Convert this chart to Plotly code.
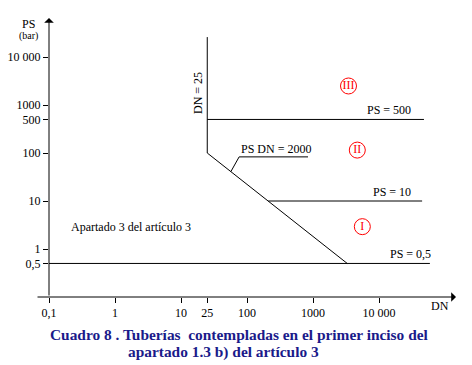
import math
import plotly.graph_objects as go

# ---- data (DN, PS) ----
x_ticks = [0.1, 1, 10, 25, 100, 1000, 10000]
x_ticktext = ["0,1", "1", "10", "25", "100", "1000", "10 000"]
y_ticks = [0.5, 1, 10, 100, 500, 1000, 10000]
y_ticktext = ["0,5", "1", "10", "100", "500", "1000", "10 000"]

dn25_dn = [25, 25]
dn25_ps = [100, 26000]
ps500_dn = [25, 48000]
ps500_ps = [500, 500]
diag_dn = [25, 3300]
diag_ps = [100, 0.5]
ps10_dn = [210, 45000]
ps10_ps = [10, 10]
ps05_dn = [0.1, 59000]
ps05_ps = [0.5, 0.5]
leader_dn = [57, 76, 840]
leader_ps = [41, 83, 83]

zone_names = ["III", "II", "I"]
zone_dn = [3450, 4690, 5590]
zone_ps = [2490, 115, 2.92]

FONT = "Liberation Serif"
L, R, T, B = 49, 16, 19, 68
W, H = 472, 365
PW, PH = W - L - R, H - T - B


def px(xp):
    return (xp - L) / PW


def py(yp):
    return (T + PH - yp) / PH


fig = go.Figure()
line_style = dict(color="black", width=1)
for xs, ys in [(dn25_dn, dn25_ps), (ps500_dn, ps500_ps), (diag_dn, diag_ps),
               (ps10_dn, ps10_ps), (ps05_dn, ps05_ps), (leader_dn, leader_ps)]:
    fig.add_trace(go.Scatter(x=xs, y=ys, mode="lines", line=line_style,
                             hoverinfo="skip", showlegend=False))

fig.add_trace(go.Scatter(
    x=zone_dn, y=zone_ps, mode="markers+text", text=zone_names,
    textposition="middle center",
    textfont=dict(family=FONT, size=12, color="#ff0000"),
    marker=dict(symbol="circle-open", size=16, color="#ff0000",
                line=dict(width=1, color="#ff0000")),
    hoverinfo="skip", showlegend=False, cliponaxis=False))

ann = []
lg = math.log10
tf = dict(family=FONT, size=12, color="black")
# line labels
ann.append(dict(x=lg(25), y=lg(1800), xref="x", yref="y", text="DN = 25",
                textangle=-90, showarrow=False, xanchor="right", yanchor="middle",
                xshift=-1, font=tf))
ann.append(dict(x=lg(32700), y=lg(500), xref="x", yref="y", text="PS = 500",
                showarrow=False, xanchor="right", yanchor="bottom", yshift=0, font=tf))
ann.append(dict(x=lg(32700), y=lg(10), xref="x", yref="y", text="PS = 10",
                showarrow=False, xanchor="right", yanchor="bottom", yshift=0, font=tf))
ann.append(dict(x=lg(65800), y=lg(0.5), xref="x", yref="y", text="PS = 0,5",
                showarrow=False, xanchor="right", yanchor="bottom", yshift=0, font=tf))
ann.append(dict(x=lg(76), y=lg(83), xref="x", yref="y", text="PS DN = 2000",
                showarrow=False, xanchor="left", yanchor="bottom", yshift=-1, font=tf))
ann.append(dict(x=lg(0.2), y=lg(2.9), xref="x", yref="y",
                text="Apartado 3 del artículo 3",
                showarrow=False, xanchor="left", yanchor="middle", font=tf))
# axis titles
ann.append(dict(x=px(28), y=py(24), xref="paper", yref="paper", text="PS",
                showarrow=False, xanchor="center", yanchor="middle", font=tf))
ann.append(dict(x=px(28), y=py(36), xref="paper", yref="paper", text="(bar)",
                showarrow=False, xanchor="center", yanchor="middle",
                font=dict(family=FONT, size=10, color="black")))
ann.append(dict(x=px(440), y=py(306), xref="paper", yref="paper", text="DN",
                showarrow=False, xanchor="center", yanchor="middle", font=tf))
# axes with arrows
ann.append(dict(x=px(456), y=0, xref="paper", yref="paper", text="",
                showarrow=True, ax=-(456 - 36), ay=0, arrowhead=1, arrowsize=1.6,
                arrowwidth=1, arrowcolor="black"))
ann.append(dict(x=0, y=py(18), xref="paper", yref="paper", text="",
                showarrow=True, ax=0, ay=297 - 18, arrowhead=1, arrowsize=1.6,
                arrowwidth=1, arrowcolor="black"))
# caption
cf = dict(family=FONT, size=15.4, color="#1a1a8a")
ann.append(dict(x=px(239), y=py(334), xref="paper", yref="paper",
                text="<b>Cuadro 8 . Tuberías&nbsp; contempladas en el primer inciso del</b>",
                showarrow=False, xanchor="center", yanchor="middle", font=cf))
ann.append(dict(x=px(126), y=py(352), xref="paper", yref="paper",
                text="<b>apartado 1.3 b) del artículo 3</b>",
                showarrow=False, xanchor="left", yanchor="middle", font=cf))

axis_common = dict(type="log", showgrid=False, zeroline=False, showline=False,
                   ticks="outside", ticklen=5, tickwidth=1, tickcolor="black",
                   tickfont=dict(family=FONT, size=12, color="black"),
                   tickmode="array", automargin=False)
fig.update_layout(
    width=W, height=H,
    margin=dict(l=L, r=R, t=T, b=B, pad=0, autoexpand=False),
    paper_bgcolor="white", plot_bgcolor="white",
    xaxis=dict(range=[-1, -1 + PW / 66], tickvals=x_ticks, ticktext=x_ticktext,
               **axis_common),
    yaxis=dict(range=[-1, -1 + PH / 48], tickvals=y_ticks, ticktext=y_ticktext,
               **axis_common),
    annotations=ann,
    showlegend=False,
)
fig.write_html("out.html", config={"displayModeBar": False},
               post_script="document.body.style.margin='0';document.body.style.overflow='hidden';")
